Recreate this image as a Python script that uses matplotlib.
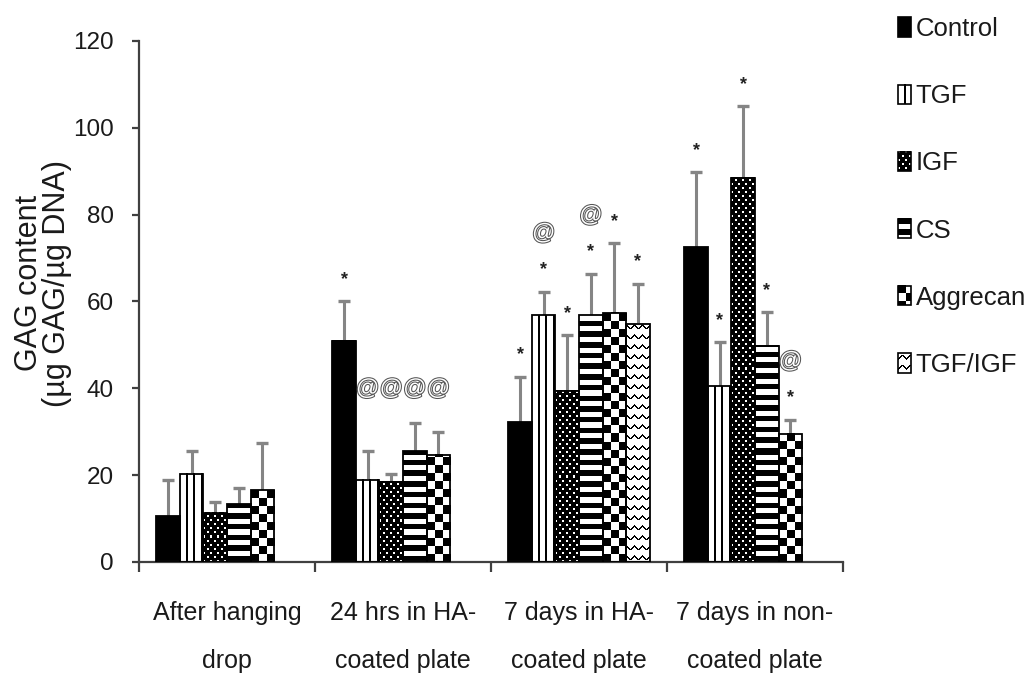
import numpy as np
import matplotlib
matplotlib.use("Agg")
import matplotlib.pyplot as plt
import matplotlib.patheffects as pe
from matplotlib.colors import Normalize
from matplotlib.image import BboxImage
from matplotlib.legend_handler import HandlerBase
from matplotlib.patches import Rectangle
from matplotlib.transforms import Bbox, TransformedBbox

nan = np.nan

groups = ["After hanging\ndrop", "24 hrs in HA-\ncoated plate",
          "7 days in HA-\ncoated plate", "7 days in non-\ncoated plate"]
treatments = ["Control", "TGF", "IGF", "CS", "Aggrecan", "TGF/IGF"]

# mean GAG content per group (nan = condition not tested)
control = [10.5, 51.0, 32.2, 72.5]
tgf = [20.3, 19.0, 56.8, 40.5]
igf = [11.3, 18.5, 39.4, 88.5]
cs = [13.3, 25.5, 56.8, 49.8]
aggrecan = [16.5, 24.7, 57.4, 29.5]
tgf_igf = [nan, nan, 54.9, nan]

# standard deviations
control_sd = [8.5, 9.0, 10.5, 17.3]
tgf_sd = [5.2, 6.5, 5.5, 10.1]
igf_sd = [2.6, 1.8, 12.9, 16.5]
cs_sd = [3.8, 6.5, 9.6, 7.7]
aggrecan_sd = [10.8, 5.3, 16.0, 3.3]
tgf_igf_sd = [nan, nan, 9.2, nan]

# significance flags: '*' and '@'
control_star = [0, 1, 1, 1]
tgf_star = [0, 0, 1, 1]
igf_star = [0, 0, 1, 1]
cs_star = [0, 0, 1, 1]
aggrecan_star = [0, 0, 1, 1]
tgf_igf_star = [0, 0, 1, 0]

control_at = [0, 0, 0, 0]
tgf_at = [0, 1, 1, 0]
igf_at = [0, 1, 0, 0]
cs_at = [0, 1, 1, 0]
aggrecan_at = [0, 1, 0, 1]
tgf_igf_at = [0, 0, 0, 0]

means = [control, tgf, igf, cs, aggrecan, tgf_igf]
sds = [control_sd, tgf_sd, igf_sd, cs_sd, aggrecan_sd, tgf_igf_sd]
stars = [control_star, tgf_star, igf_star, cs_star, aggrecan_star, tgf_igf_star]
ats = [control_at, tgf_at, igf_at, cs_at, aggrecan_at, tgf_igf_at]
patterns = ["solid", "vlines", "dots", "hstripes", "checker", "zigzag"]

FONT = ["Liberation Sans", "DejaVu Sans"]
AXCOL = "#404040"
TXTCOL = "#1a1a1a"


def texture(kind, h, w):
    # black/white fill patterns, 0 = black, 1 = white, one value per pixel
    yy, xx = np.mgrid[0:h, 0:w]
    img = np.ones((h, w))
    if kind == "solid":
        img[:] = 0
    elif kind == "vlines":
        img[(xx + 2) % 7.5 < 2] = 0
    elif kind == "dots":
        img[:] = 0
        shift = ((yy // 4) % 2) * 3.5
        img[((xx + shift) % 7 < 2) & (yy % 4 < 2)] = 1
    elif kind == "hstripes":
        img[yy % 10.7 < 5.5] = 0
    elif kind == "checker":
        img[((xx // 8) + (yy // 8)) % 2 == 0] = 0
    elif kind == "zigzag":
        tri = np.abs((xx % 8) - 4)
        img[np.abs((yy % 10) - (2 + tri * 0.9)) < 1.0] = 0
    return img


class TextureHandler(HandlerBase):
    def __init__(self, kind):
        super().__init__()
        self.kind = kind

    def create_artists(self, legend, orig_handle, xdescent, ydescent,
                       width, height, fontsize, trans):
        box = Bbox.from_bounds(-xdescent, -ydescent, width, height)
        img = BboxImage(TransformedBbox(box, trans), cmap="gray",
                        norm=Normalize(0, 1), interpolation="nearest")
        img.set_data(texture(self.kind, 20, 13))
        frame = Rectangle((-xdescent, -ydescent), width, height,
                          facecolor="none", edgecolor="black", lw=1.2,
                          transform=trans)
        return [img, frame]


W, H, DPI = 1031, 679, 100
fig = plt.figure(figsize=(W / DPI, H / DPI), dpi=DPI)
ax = fig.add_axes([139 / W, 1 - 562 / H, 704 / W, 521 / H])
ax.set_xlim(-0.5, 3.5)
ax.set_ylim(0, 120)

x = np.arange(len(groups))
bw = 0.134

for j, (vals, err) in enumerate(zip(means, sds)):
    vals = np.array(vals, dtype=float)
    err = np.array(err, dtype=float)
    pos = x + (j - 2.5) * bw
    ax.errorbar(pos, vals, yerr=err, fmt="none", ecolor="#858585",
                elinewidth=2.2, capsize=4, capthick=2.4, zorder=1)
    bars = ax.bar(pos, vals, width=bw, facecolor="none",
                  edgecolor="black", linewidth=1.3, zorder=3)
    for b in bars:
        v = b.get_height()
        if np.isnan(v):
            continue
        x0, x1 = b.get_x(), b.get_x() + b.get_width()
        (px0, py0), (px1, py1) = ax.transData.transform([(x0, 0), (x1, v)])
        tex = texture(patterns[j], max(int(round(py1 - py0)), 1),
                      max(int(round(px1 - px0)), 1))
        ax.imshow(tex, extent=(x0, x1, 0, v), cmap="gray", vmin=0, vmax=1,
                  interpolation="nearest", aspect="auto", origin="lower",
                  zorder=2)

# significance marks above the error bars
for i in range(len(groups)):
    caps = [means[j][i] + sds[j][i] for j in range(len(treatments))]
    plain_at = [caps[j] for j in range(len(treatments))
                if ats[j][i] and not stars[j][i]]
    at_level = max(plain_at) + 8 if plain_at else None
    for j in range(len(treatments)):
        if np.isnan(means[j][i]):
            continue
        px = x[i] + (j - 2.5) * bw
        star_y = caps[j] + 5.0
        if stars[j][i]:
            ax.text(px, star_y, "*", ha="center", va="center", fontsize=13,
                    fontweight="bold", family=FONT, color="#222222", zorder=4)
        if ats[j][i]:
            ay = star_y + 8.5 if stars[j][i] else at_level
            ax.text(px, ay, "@", ha="center", va="center", fontsize=16.5,
                    family=FONT, color="white", zorder=4,
                    path_effects=[pe.withStroke(linewidth=1.5,
                                                foreground="#555555")])

# axes styling
for s in ("top", "right"):
    ax.spines[s].set_visible(False)
for s in ("left", "bottom"):
    ax.spines[s].set_color(AXCOL)
    ax.spines[s].set_linewidth(1.6)

ax.set_yticks(np.arange(0, 121, 20))
ax.tick_params(axis="y", length=5, width=1.6, color=AXCOL, pad=13,
               labelsize=17.5, labelfontfamily=FONT, labelcolor=TXTCOL)
ax.set_xticks(np.arange(-0.5, 3.6, 1.0))
ax.set_xticklabels([])
ax.tick_params(axis="x", which="major", length=7.5, width=1.6, color=AXCOL)
ax.set_xticks(x, minor=True)
ax.set_xticklabels(groups, minor=True, fontsize=18, family=FONT,
                   color=TXTCOL, linespacing=2.25)
ax.tick_params(axis="x", which="minor", length=0, pad=28)

fig.text(43 / W, 1 - 283 / H, "GAG content\n(\u00b5g GAG/\u00b5g DNA)",
         rotation=90, ha="center", va="center", fontsize=22, family=FONT,
         color=TXTCOL, linespacing=0.95, multialignment="center")

handles = [Rectangle((0, 0), 1, 1) for _ in treatments]
leg = fig.legend(handles, treatments,
                 handler_map={h: TextureHandler(k) for h, k in zip(handles, patterns)},
                 loc="upper left", bbox_to_anchor=(898 / W, 1 - 17 / H),
                 frameon=False, borderpad=0, borderaxespad=0,
                 prop={"family": FONT, "size": 18.5},
                 handlelength=0.49, handleheight=0.78, handletextpad=0.2,
                 labelspacing=1.68)
for t in leg.get_texts():
    t.set_color(TXTCOL)

fig.savefig("out.png", dpi=DPI, facecolor="white")
